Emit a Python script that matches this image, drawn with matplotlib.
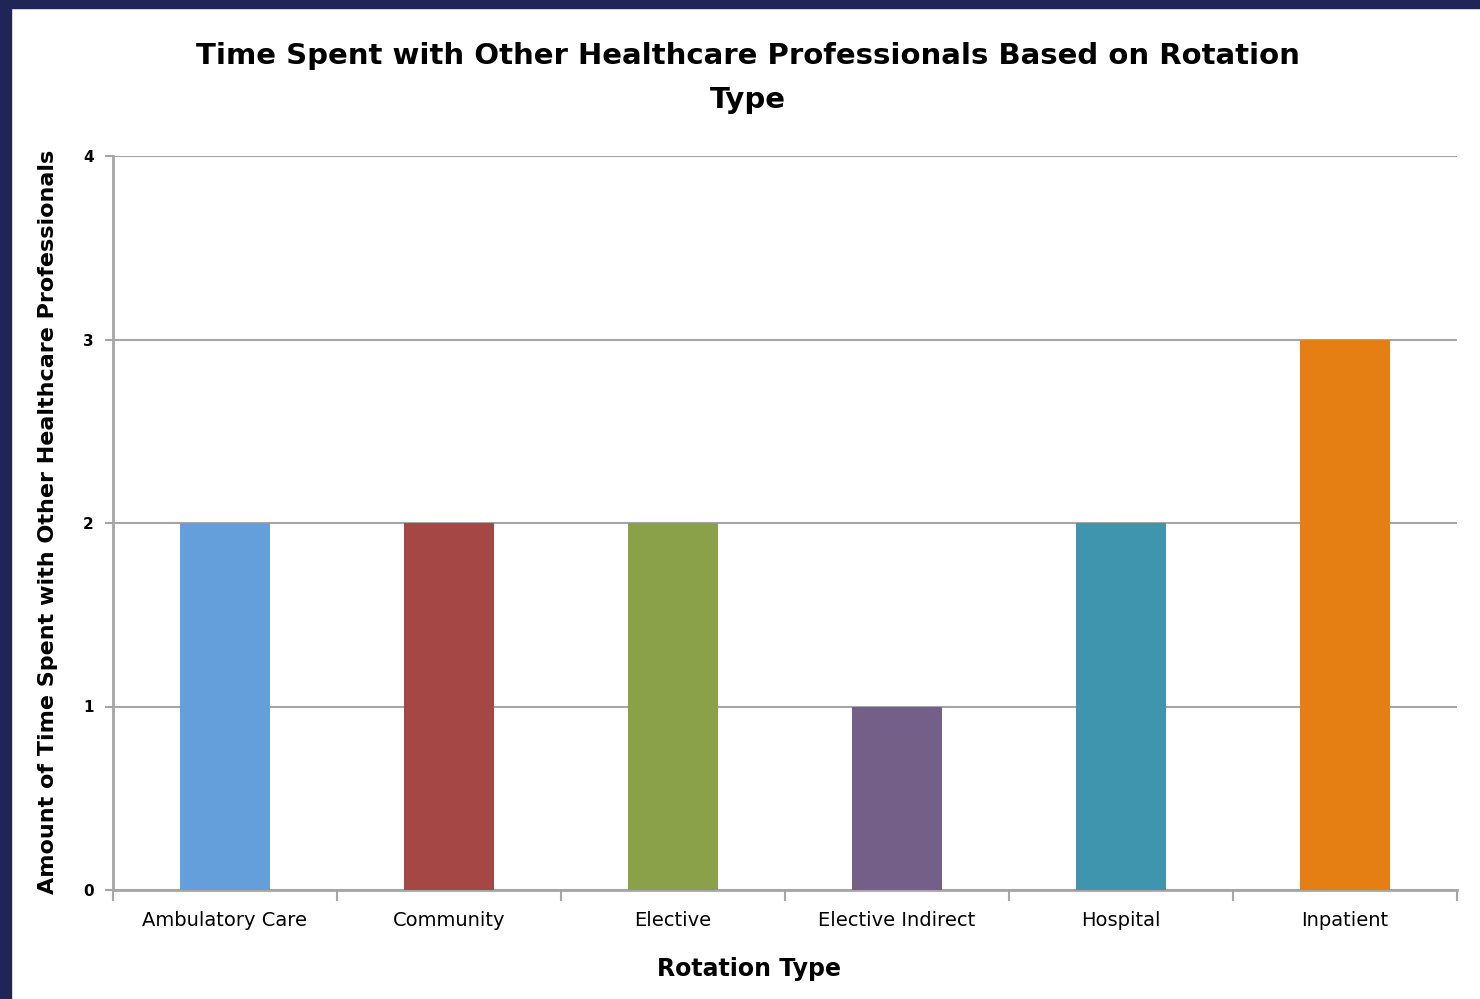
import numpy as np
import matplotlib
matplotlib.use("Agg")
import matplotlib.pyplot as plt
from matplotlib.patches import Rectangle

# data
categories = ["Ambulatory Care", "Community", "Elective", "Elective Indirect", "Hospital", "Inpatient"]
values = [2, 2, 2, 1, 2, 3]
colors = ["#659fdb", "#a44745", "#8aa049", "#735f88", "#3f95ae", "#e57e13"]
yticks = [0, 1, 2, 3, 4]

navy = "#1f2556"
grid_col = "#a6a6a6"

fig = plt.figure(figsize=(14.8, 9.99), dpi=100)
fig.patch.set_facecolor("white")

# dark slide border on top and left
fig.patches.append(Rectangle((0, 1 - 8 / 999), 1, 8 / 999, transform=fig.transFigure,
                             color=navy, zorder=0))
fig.patches.append(Rectangle((0, 0), 11 / 1480, 1, transform=fig.transFigure,
                             color=navy, zorder=0))

ax = fig.add_axes([113 / 1480, 109 / 999, 1344 / 1480, 734 / 999])

x = np.arange(len(categories))
ax.bar(x, values, width=0.4, color=colors, zorder=3)

ax.set_xlim(-0.5, len(categories) - 0.5)
ax.set_ylim(0, 4)
ax.set_yticks(yticks)
ax.set_yticklabels([str(v) for v in yticks], fontsize=11, fontweight="bold")
ax.yaxis.grid(True, color=grid_col, linewidth=1.5, zorder=0)

# category ticks sit between the bars, labels sit under the bars
ax.set_xticks(np.arange(len(categories) + 1) - 0.5)
ax.set_xticklabels([])
ax.set_xticks(x, minor=True)
ax.set_xticklabels(categories, minor=True, fontsize=14)
ax.tick_params(axis="x", which="minor", length=0, pad=15)
ax.tick_params(axis="x", which="major", length=8, width=1.5, color=grid_col)
ax.tick_params(axis="y", length=6, width=1.5, color=grid_col, pad=8)

for s in ["top", "right"]:
    ax.spines[s].set_visible(False)
for s in ["left", "bottom"]:
    ax.spines[s].set_color(grid_col)
    ax.spines[s].set_linewidth(2)

ax.set_xlabel("Rotation Type", fontsize=17, fontweight="bold")
ax.xaxis.set_label_coords((749 - 113) / 1344, -(969 - 890) / 734)
ax.xaxis.label.set_va("center")
ax.set_ylabel("Amount of Time Spent with Other Healthcare Professionals",
              fontsize=16, fontweight="bold")
ax.yaxis.set_label_coords(-(113 - 48) / 1344, (890 - 522) / 734)
ax.yaxis.label.set_va("center")

fig.text(748 / 1480, 1 - 78 / 999,
         "Time Spent with Other Healthcare Professionals Based on Rotation\nType",
         ha="center", va="center", fontsize=21, fontweight="bold", linespacing=1.75)

fig.savefig("out.png", dpi=100, facecolor=fig.get_facecolor())
